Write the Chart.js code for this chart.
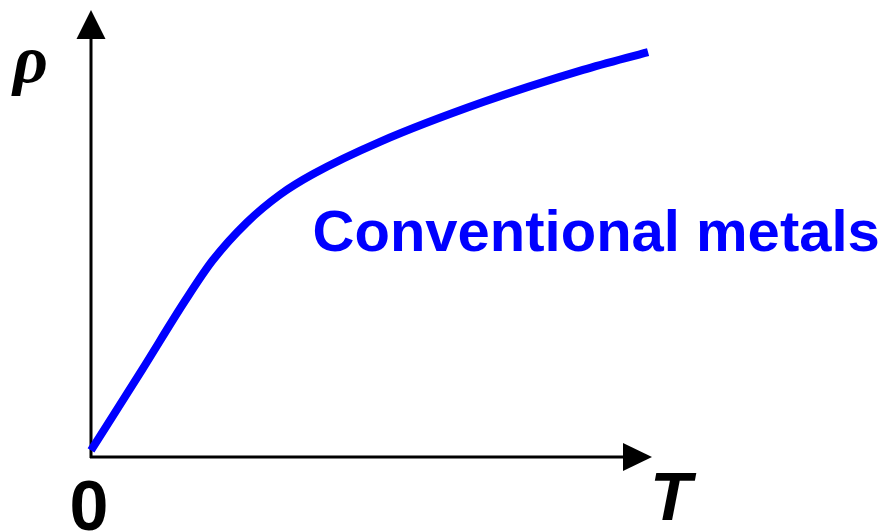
<!DOCTYPE html>
<html>
<head>
<meta charset="utf-8">
<script src="https://cdn.jsdelivr.net/npm/chart.js@4/dist/chart.umd.min.js"></script>
<style>
  body { margin: 0; background: #fff; }
</style>
</head>
<body>
<canvas id="chart" width="887" height="531"></canvas>
<script>
// curve (arbitrary units, T on x, rho on y)
const temps = [0, 0.91, 1.68, 2.17, 2.78, 3.37, 3.96, 5.15, 6.99, 8.77, 9.93];
const rhos  = [0.15, 1.95, 3.50, 4.40, 5.25, 5.87, 6.33, 7.05, 7.94, 8.66, 9.06];

const seriesLabel = 'Conventional metals';
const xLabel = 'T';
const yLabel = 'ρ';
const originLabel = '0';

const points = temps.map((t, i) => ({ x: t, y: rhos[i] }));

// axes with arrow heads + the labels
const axesPlugin = {
  id: 'axesArrows',
  beforeDatasetsDraw(chart) {
    const { ctx, scales: { x, y }, chartArea } = chart;
    const x0 = x.getPixelForValue(0);
    const y0 = y.getPixelForValue(0);
    ctx.save();
    ctx.strokeStyle = '#000';
    ctx.fillStyle = '#000';
    ctx.lineWidth = 3;

    // y axis
    ctx.beginPath();
    ctx.moveTo(x0, y0 + 1);
    ctx.lineTo(x0, chartArea.top + 25);
    ctx.stroke();
    ctx.beginPath();
    ctx.moveTo(x0, chartArea.top);
    ctx.lineTo(x0 - 14.5, chartArea.top + 29);
    ctx.lineTo(x0 + 14.5, chartArea.top + 29);
    ctx.closePath();
    ctx.fill();

    // x axis
    ctx.beginPath();
    ctx.moveTo(x0 - 1, y0);
    ctx.lineTo(chartArea.right - 25, y0);
    ctx.stroke();
    ctx.beginPath();
    ctx.moveTo(chartArea.right, y0);
    ctx.lineTo(chartArea.right - 29, y0 - 14);
    ctx.lineTo(chartArea.right - 29, y0 + 14);
    ctx.closePath();
    ctx.fill();
    ctx.restore();
  },
  afterDatasetsDraw(chart) {
    const { ctx, scales: { x, y }, chartArea } = chart;
    const x0 = x.getPixelForValue(0);
    const y0 = y.getPixelForValue(0);
    ctx.save();
    ctx.fillStyle = '#000';
    ctx.textBaseline = 'alphabetic';

    ctx.font = 'bold 70px "Liberation Sans", Arial, sans-serif';
    ctx.textAlign = 'center';
    ctx.fillText(originLabel, x0 - 2, y0 + 73);

    ctx.font = 'italic bold 68px "Liberation Sans", Arial, sans-serif';
    ctx.textAlign = 'left';
    ctx.fillText(xLabel, chartArea.right - 2, y0 + 63);

    ctx.font = 'italic bold 68px "Liberation Serif", serif';
    ctx.textAlign = 'left';
    ctx.fillText(yLabel, 13, 82);

    ctx.fillStyle = '#0000ff';
    ctx.font = 'bold 58px "Liberation Sans", Arial, sans-serif';
    ctx.fillText(seriesLabel, x.getPixelForValue(3.95), y.getPixelForValue(4.6));
    ctx.restore();
  }
};

new Chart(document.getElementById('chart'), {
  type: 'scatter',
  data: {
    datasets: [{
      label: seriesLabel,
      data: points,
      showLine: true,
      borderColor: '#0000ff',
      borderWidth: 8,
      pointRadius: 0,
      cubicInterpolationMode: 'monotone',
      clip: false
    }]
  },
  options: {
    responsive: false,
    animation: false,
    layout: { padding: { left: 91, right: 235, top: 10, bottom: 74 } },
    plugins: { legend: { display: false }, tooltip: { enabled: false } },
    scales: {
      x: { type: 'linear', min: 0, max: 10, display: false },
      y: { type: 'linear', min: 0, max: 10, display: false }
    }
  },
  plugins: [axesPlugin]
});
</script>
</body>
</html>
